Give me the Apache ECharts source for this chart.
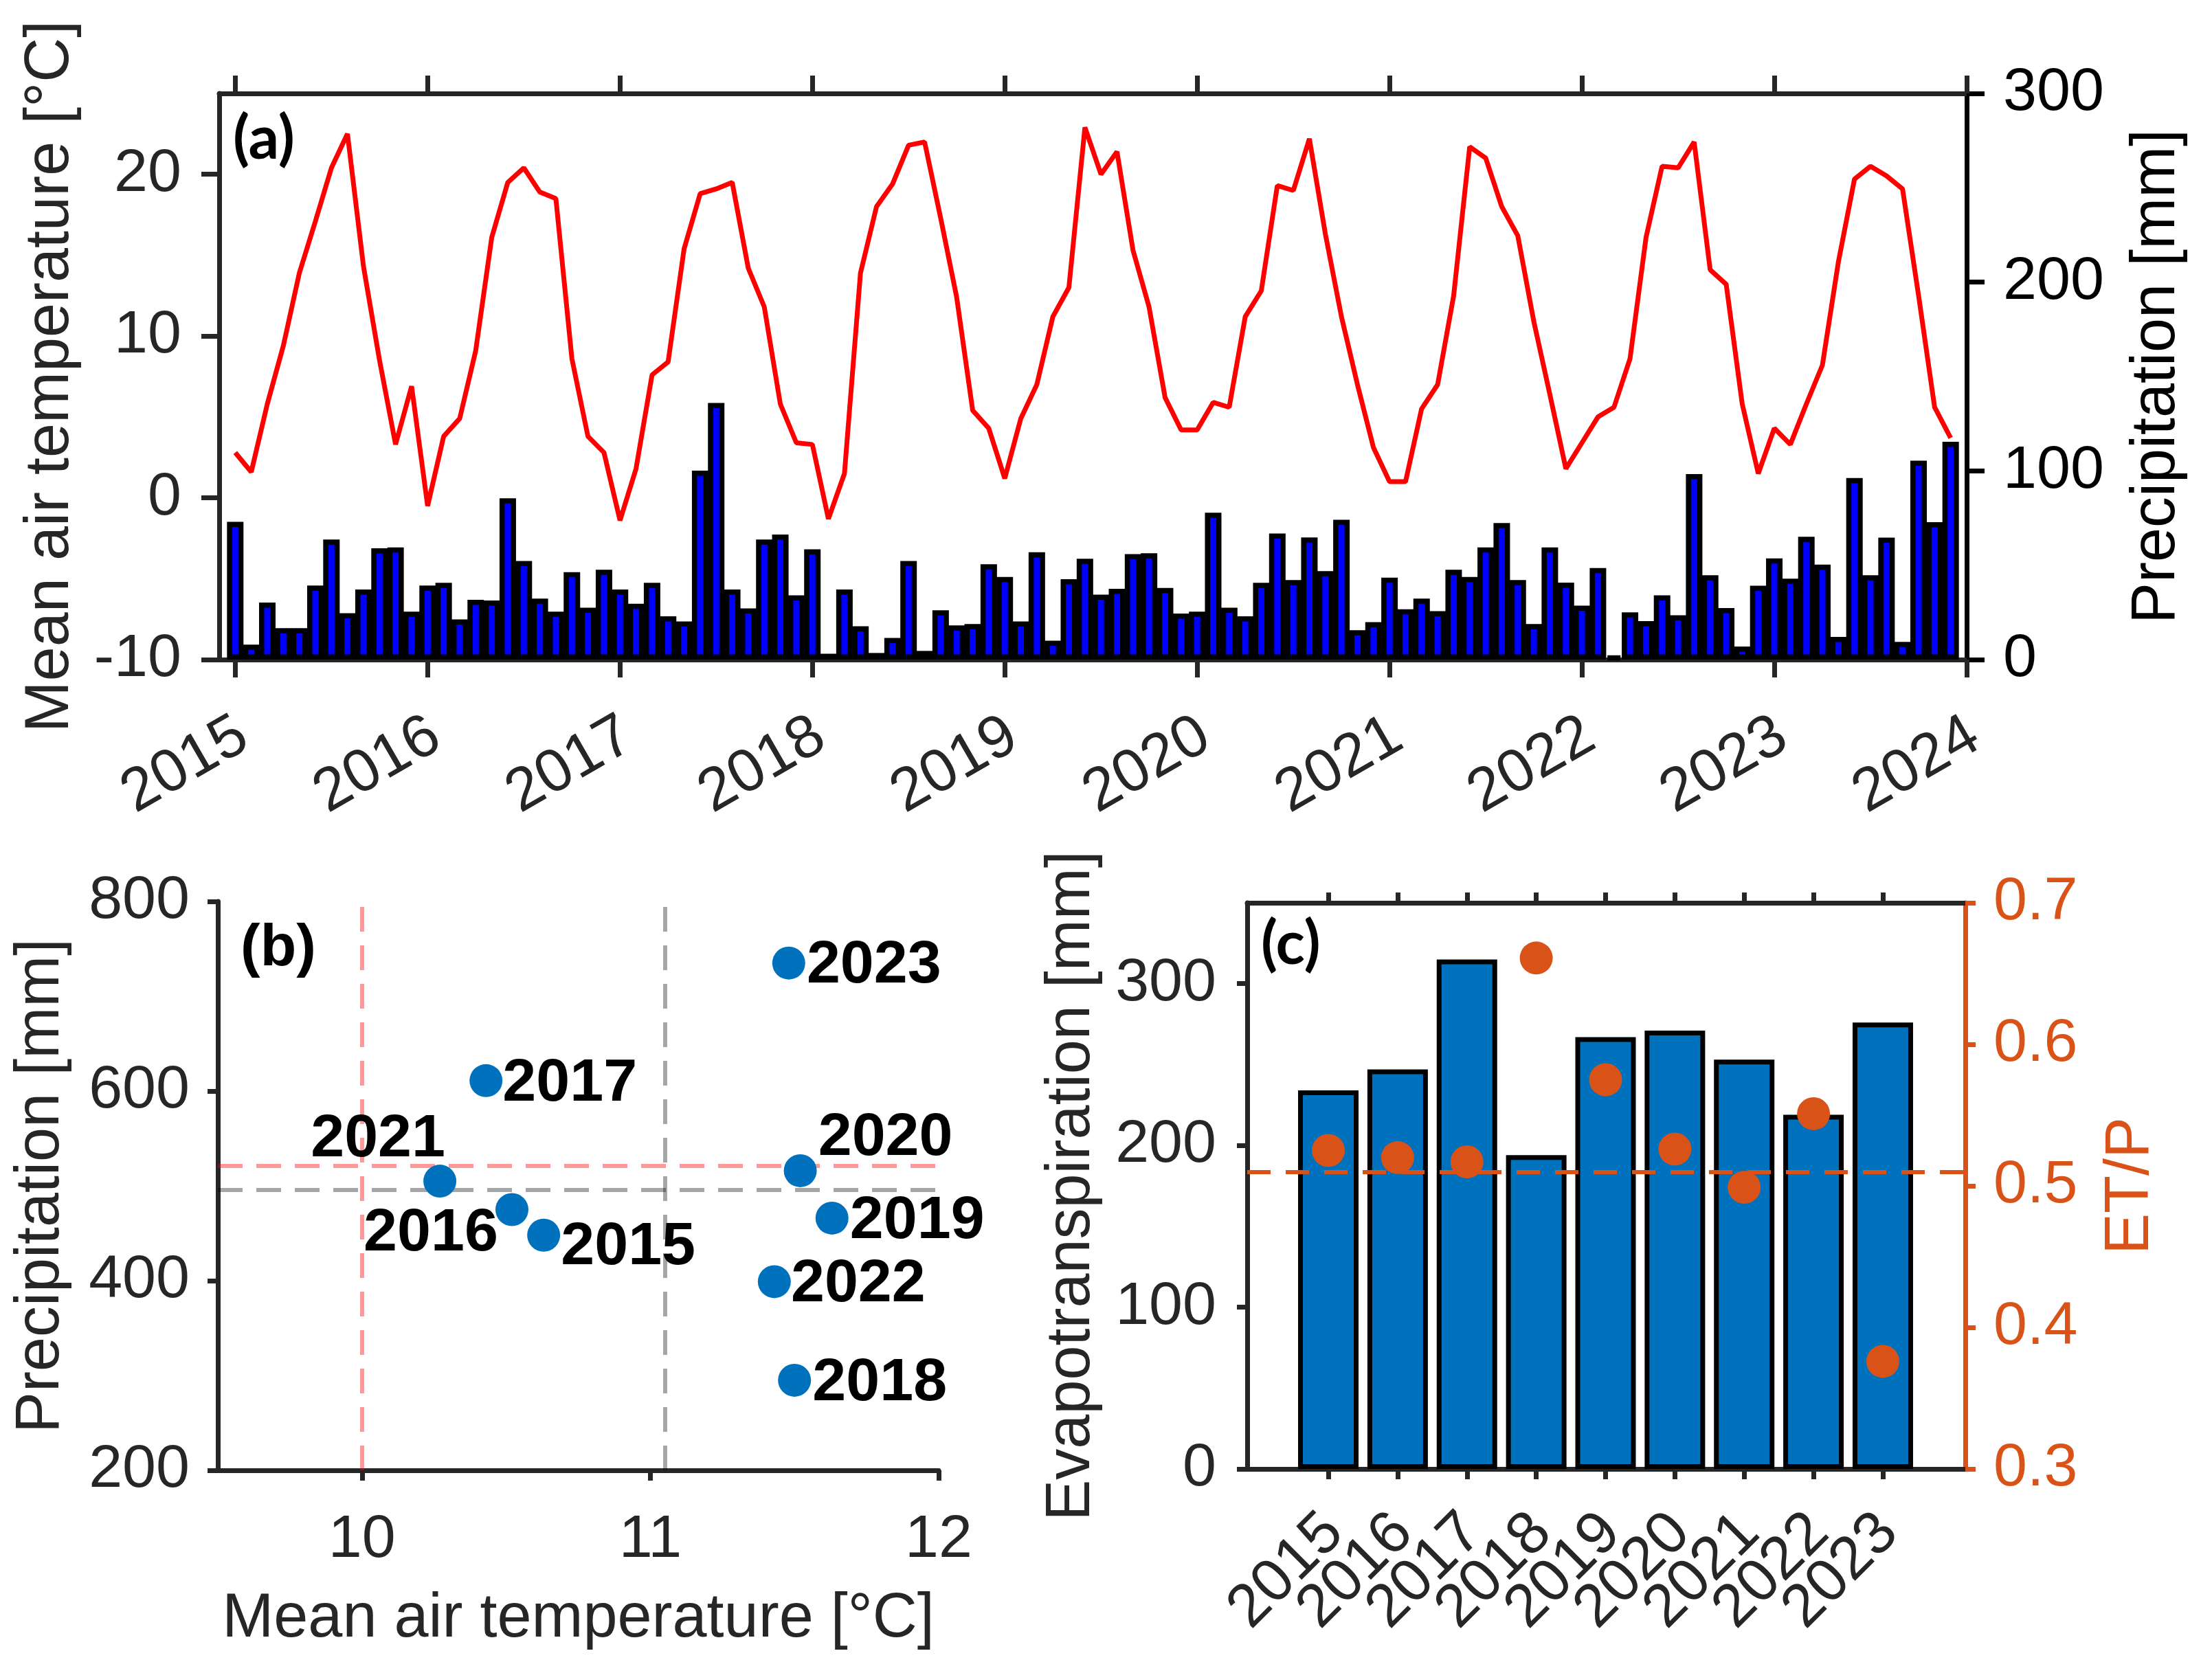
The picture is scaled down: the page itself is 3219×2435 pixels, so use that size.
<!DOCTYPE html>
<html lang="en">
<head>
<meta charset="UTF-8">
<title>Air temperature, precipitation and evapotranspiration 2015-2023</title>
<script src="https://cdn.jsdelivr.net/npm/echarts@6.0.0/dist/echarts.min.js"></script>
<style>
    html, body { margin: 0; padding: 0; background: #fff; }
    #chart { width: 3219px; height: 2435px; }
</style>
</head>
<body>
<div id="chart"></div>
<script>
    // monthly values, Jan 2015 .. Dec 2023 (index 0 = Jan 2015)
    var monthTemp = [
        2.8, 1.6, 5.8, 9.4, 13.9, 17.1, 20.4, 22.5, 14.3, 8.5, 3.3, 6.9,
        -0.5, 3.8, 4.9, 9.1, 16.1, 19.5, 20.4, 18.9, 18.5, 8.6, 3.8, 2.8,
        -1.4, 1.8, 7.6, 8.4, 15.4, 18.8, 19.1, 19.5, 14.2, 11.8, 5.8, 3.4,
        3.3, -1.3, 1.5, 13.9, 18.0, 19.4, 21.8, 22.0, 17.3, 12.4, 5.4, 4.3,
        1.2, 4.9, 7.0, 11.2, 13.0, 22.9, 20.0, 21.4, 15.3, 11.8, 6.2, 4.2,
        4.2, 5.9, 5.6, 11.2, 12.8, 19.3, 19.0, 22.2, 16.3, 11.2, 7.0, 3.1,
        1.0, 1.0, 5.5, 7.0, 12.5, 21.7, 21.0, 18.0, 16.2, 10.9, 6.4, 1.8,
        3.4, 5.0, 5.6, 8.6, 16.1, 20.5, 20.4, 22.0, 14.1, 13.2, 5.8, 1.5,
        4.3, 3.3, 5.8, 8.2, 14.6, 19.7, 20.5, 19.9, 19.1, 12.5, 5.6, 3.7
    ];
    var monthPrecip = [
        73.0, 7.9, 30.2, 16.7, 16.7, 39.2, 63.6, 24.6, 37.1, 59.0, 59.4, 25.4,
        39.2, 40.7, 21.3, 31.7, 31.3, 85.5, 52.2, 32.3, 25.4, 46.3, 27.5, 47.6,
        37.1, 29.6, 40.7, 22.9, 20.2, 100.1, 136.0, 37.1, 27.1, 63.6, 66.3, 34.0,
        58.4, 3.1, 37.1, 17.7, 3.5, 11.5, 52.2, 4.6, 26.1, 18.1, 18.8, 50.5,
        43.8, 20.2, 56.9, 10.0, 42.6, 53.4, 34.4, 37.5, 55.9, 56.3, 38.0, 24.4,
        25.4, 77.8, 27.5, 22.9, 40.7, 66.8, 42.1, 64.7, 46.9, 74.1, 15.6, 19.8,
        43.4, 26.7, 32.3, 25.7, 47.6, 43.8, 59.4, 72.4, 42.1, 18.8, 59.4, 40.8,
        28.6, 48.5, 1.8, 25.0, 20.4, 34.0, 23.5, 98.3, 44.7, 27.3, 6.9, 39.1,
        53.6, 42.9, 65.1, 50.3, 12.0, 96.2, 44.7, 64.6, 9.4, 105.4, 72.8, 115.4
    ];

    // yearly values
    var years = ['2015', '2016', '2017', '2018', '2019', '2020', '2021', '2022', '2023'];
    var yearTemp = [10.63, 10.52, 10.43, 11.50, 11.63, 11.52, 10.27, 11.43, 11.48];
    var yearPrecip = [448, 475, 611, 295, 466, 516, 505, 399, 735];
    var yearET = [234, 247, 315, 194, 267, 271, 253, 219, 276];
    var yearRatio = [0.525, 0.520, 0.517, 0.661, 0.575, 0.526, 0.499, 0.551, 0.376];

    // reference lines
    var longTemp = 10.0, longPrecip = 521;       // red
    var periodTemp = 11.05, periodPrecip = 496;  // gray
    var meanRatio = 0.512;

    // tick labels
    var tempTicks = [-10, 0, 10, 20];
    var precipTicks = [0, 100, 200, 300];
    var scatterTempTicks = [10, 11, 12];
    var etTicks = [0, 100, 200, 300];
    var ratioTicks = [0.3, 0.4, 0.5, 0.6, 0.7];

    // label shift of the year names in (b), px
    var labelShift = [[123, 18], [-118, 35], [122, 5], [124, 5], [124, 5], [124, -47], [-90, -60], [122, 4], [124, 4]];

    var axisGray = '#262626';
    var orange = '#D95319';
    var blue = '#0072BD';
    var tickFont = 88;
    var nameFont = 90;

    var monthTicks = [];
    for (var y = 0; y <= 9; y++) monthTicks.push(y * 12);
    var yearIdx = [];
    for (var k = 0; k < years.length; k++) yearIdx.push(k);
    // empty end stops, so ECharts' min/max label check drops them and not a real year
    var yearStops = [-1.15].concat(yearIdx).concat([9.17]);

    var barA = [], lineA = [], dotsB = [], barC = [], dotsC = [];
    for (var i = 0; i < monthTemp.length; i++) {
        barA.push([i, monthPrecip[i]]);
        lineA.push([i, monthTemp[i]]);
    }
    for (var j = 0; j < years.length; j++) {
        dotsB.push({ value: [yearTemp[j], yearPrecip[j]], name: years[j], label: { offset: labelShift[j] } });
        barC.push([j, yearET[j]]);
        dotsC.push([j, yearRatio[j]]);
    }

    function ax(opt, color, tickLen) {
        color = color || axisGray;
        var a = {
            type: 'value',
            axisLine: { show: true, onZero: false, lineStyle: { color: color, width: 7 } },
            axisTick: { show: true, inside: false, length: tickLen || 15, lineStyle: { color: color, width: 7 } },
            axisLabel: { fontSize: tickFont, color: color, fontFamily: 'Liberation Sans', showMinLabel: true, showMaxLabel: true },
            splitLine: { show: false },
            nameLocation: 'middle',
            nameTextStyle: { fontSize: nameFont, color: color, fontFamily: 'Liberation Sans' }
        };
        for (var key in opt) {
            if (key === 'axisTick' || key === 'axisLabel') {
                for (var s in opt[key]) a[key][s] = opt[key][s];
            } else {
                a[key] = opt[key];
            }
        }
        return a;
    }

    var myChart = echarts.init(document.getElementById('chart'));
    var option = {
        animation: false,
        backgroundColor: '#fff',
        textStyle: { fontFamily: 'Liberation Sans' },
        title: [
            { text: '(a)', left: 334, top: 154, textStyle: { fontFamily: 'Lato', fontWeight: 'bold', fontSize: 88, color: '#000' } },
            { text: '(b)', left: 345, top: 1333, textStyle: { fontFamily: 'Liberation Sans', fontWeight: 'bold', fontSize: 86, color: '#000' } },
            { text: '(c)', left: 1830, top: 1326, textStyle: { fontFamily: 'Lato', fontWeight: 'bold', fontSize: 88, color: '#000' } }
        ],
        grid: [
            { left: 319, top: 136, width: 2543, height: 824 },
            { left: 317, top: 1312, width: 1049, height: 828 },
            { left: 1815, top: 1314, width: 1045, height: 824 }
        ],
        xAxis: [
            ax({ gridIndex: 0, position: 'bottom', min: -1, max: 108,
                axisTick: { customValues: monthTicks },
                axisLabel: { customValues: monthTicks, rotate: 30, margin: 112, padding: [0, -14, 0, 0],
                    formatter: function (v) { return String(2015 + Math.round(v / 12)); } } }, null, 26),
            ax({ gridIndex: 0, position: 'top', min: -1, max: 108,
                axisTick: { customValues: monthTicks },
                axisLabel: { show: false } }, null, 26),
            ax({ gridIndex: 1, position: 'bottom', min: 9.5, max: 12,
                axisTick: { customValues: scatterTempTicks },
                axisLabel: { customValues: scatterTempTicks, margin: 58 },
                name: 'Mean air temperature [°C]', nameGap: 172 }),
            ax({ gridIndex: 2, position: 'bottom', min: -1.17, max: 9.19,
                axisTick: { customValues: yearStops },
                axisLabel: { customValues: yearStops, rotate: 45, margin: 88, padding: [0, -12, 0, 0],
                    showMinLabel: false, showMaxLabel: false,
                    formatter: function (v) {
                        var r = Math.round(v);
                        return (Math.abs(v - r) < 1e-6 && years[r]) ? years[r] : '';
                    } } }),
            ax({ gridIndex: 2, position: 'top', min: -1.17, max: 9.19,
                axisTick: { customValues: yearIdx },
                axisLabel: { show: false } })
        ],
        yAxis: [
            ax({ gridIndex: 0, position: 'left', min: -10, max: 25,
                axisTick: { customValues: tempTicks },
                axisLabel: { customValues: tempTicks, margin: 55 },
                name: 'Mean air temperature [°C]', nameGap: 200 }, null, 26),
            ax({ gridIndex: 0, position: 'right', min: 0, max: 300,
                axisTick: { customValues: precipTicks },
                axisLabel: { customValues: precipTicks, margin: 53 },
                name: 'Precipitation [mm]', nameGap: 232 }, '#000', 26),
            ax({ gridIndex: 1, position: 'left', min: 200, max: 800, interval: 200,
                axisLabel: { margin: 41 },
                name: 'Precipitation [mm]', nameGap: 212 }),
            ax({ gridIndex: 2, position: 'left', min: 0, max: 350,
                axisTick: { customValues: etTicks },
                axisLabel: { customValues: etTicks, margin: 45 },
                name: 'Evapotranspiration [mm]', nameGap: 210 }),
            ax({ gridIndex: 2, position: 'right', min: 0.3, max: 0.7,
                axisTick: { customValues: ratioTicks },
                axisLabel: { customValues: ratioTicks, margin: 41,
                    formatter: function (v) { return v.toFixed(1); } },
                name: 'ET/P', nameGap: 196 }, orange)
        ],
        series: [
            {
                name: 'precipitation', type: 'bar', xAxisIndex: 0, yAxisIndex: 1,
                data: barA, barWidth: 24, z: 2,
                itemStyle: { color: '#0000FF', borderColor: '#000', borderWidth: 7.5 }
            },
            {
                name: 'temperature', type: 'line', xAxisIndex: 0, yAxisIndex: 0,
                data: lineA, symbol: 'none', z: 4,
                lineStyle: { color: '#FF0000', width: 7 }
            },
            {
                name: 'refB', type: 'scatter', xAxisIndex: 2, yAxisIndex: 2,
                data: dotsB.map(function (d) { return d.value; }), symbolSize: 0, silent: true, z: 1,
                markLine: {
                    symbol: 'none', silent: true, label: { show: false }, z: 5,
                    data: [
                        { xAxis: longTemp, lineStyle: { color: 'rgba(255,0,0,0.4)', type: [36, 20], width: 6 } },
                        { xAxis: periodTemp, lineStyle: { color: 'rgba(0,0,0,0.35)', type: [36, 20], width: 6 } },
                        { yAxis: periodPrecip, lineStyle: { color: 'rgba(0,0,0,0.35)', type: [36, 20], width: 6 } },
                        { yAxis: longPrecip, lineStyle: { color: 'rgba(255,0,0,0.4)', type: [36, 20], width: 6 } }
                    ]
                }
            },
            {
                name: 'years', type: 'scatter', xAxisIndex: 2, yAxisIndex: 2,
                data: dotsB, symbolSize: 48, z: 10,
                itemStyle: { color: blue, opacity: 1 },
                label: { show: true, position: 'inside', formatter: '{b}', fontSize: 88, fontWeight: 'bold',
                    color: '#000', fontFamily: 'Liberation Sans' }
            },
            {
                name: 'ET', type: 'bar', xAxisIndex: 3, yAxisIndex: 3,
                data: barC, barWidth: 88, z: 2,
                itemStyle: { color: blue, borderColor: '#000', borderWidth: 7 }
            },
            {
                name: 'refC', type: 'scatter', xAxisIndex: 3, yAxisIndex: 4,
                data: dotsC, symbolSize: 0, silent: true, z: 1,
                markLine: {
                    symbol: 'none', silent: true, label: { show: false }, z: 5,
                    data: [{ yAxis: meanRatio, lineStyle: { color: orange, type: [34, 22], width: 6 } }]
                }
            },
            {
                name: 'ET/P', type: 'scatter', xAxisIndex: 3, yAxisIndex: 4,
                data: dotsC, symbolSize: 48, z: 10,
                itemStyle: { color: orange, opacity: 1 }
            }
        ]
    };
    myChart.setOption(option);
</script>
</body>
</html>
